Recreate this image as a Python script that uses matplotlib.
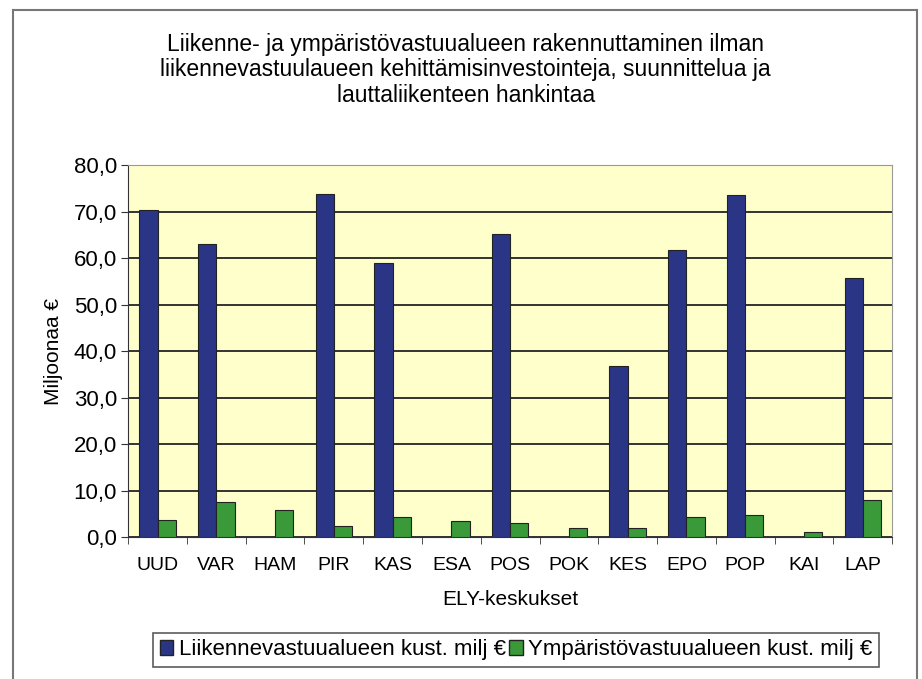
import matplotlib
matplotlib.use("Agg")
import matplotlib.pyplot as plt
import numpy as np
from matplotlib.lines import Line2D
from matplotlib.ticker import FuncFormatter

plt.rcParams['font.family'] = ['Liberation Sans', 'DejaVu Sans']

# data (million €)
regions = ['UUD', 'VAR', 'HAM', 'PIR', 'KAS', 'ESA', 'POS', 'POK', 'KES', 'EPO', 'POP', 'KAI', 'LAP']
liikenne = [70.3, 63.0, 0.0, 73.8, 59.0, 0.0, 65.2, 0.0, 36.7, 61.8, 73.6, 0.0, 55.7]
ymparisto = [3.6, 7.6, 5.8, 2.3, 4.4, 3.4, 3.1, 1.9, 1.9, 4.4, 4.7, 1.2, 7.9]
series_names = ['Liikennevastuualueen kust. milj €', 'Ympäristövastuualueen kust. milj €']
title = ('Liikenne- ja ympäristövastuualueen rakennuttaminen ilman\n'
         'liikennevastuulaueen kehittämisinvestointeja, suunnittelua ja\n'
         'lauttaliikenteen hankintaa')

blue = '#2b3585'
green = '#3a9a3a'

fig = plt.figure(figsize=(9.22, 6.79), dpi=100)
ax = fig.add_axes([0.139, 0.209, 0.8286, 0.548])

x = np.arange(len(regions))
w = 0.31
ax.bar(x - w/2, liikenne, w, color=blue, edgecolor='#222222', linewidth=0.8, zorder=3)
ax.bar(x + w/2, ymparisto, w, color=green, edgecolor='#222222', linewidth=0.8, zorder=3)

ax.set_facecolor('#ffffcc')
ax.set_xlim(-0.5, len(regions) - 0.5)
ax.set_ylim(0, 80)
ax.set_yticks(np.arange(0, 81, 10))
ax.yaxis.set_major_formatter(FuncFormatter(lambda v, p: f'{v:.1f}'.replace('.', ',')))
ax.grid(axis='y', color='#333333', linewidth=1.4, zorder=1)

ax.set_xticks(x)
ax.set_xticklabels(regions, fontsize=14)
ax.set_xticks(np.arange(-0.5, len(regions)), minor=True)
ax.tick_params(axis='x', which='major', length=0, pad=14)
ax.tick_params(axis='x', which='minor', length=5, color='#333333')
ax.tick_params(axis='y', labelsize=16, length=5, color='#333333', pad=3)

for side in ['top', 'right']:
    ax.spines[side].set_color('#999999')
for side in ['left', 'bottom']:
    ax.spines[side].set_color('#333333')

ax.set_xlabel('ELY-keskukset', fontsize=15, labelpad=12)
ax.set_ylabel('Miljoonaa €', fontsize=15, labelpad=8)

fig.text(0.505, 0.897, title, ha='center', va='center', fontsize=16.5, linespacing=1.12)

handles = [plt.Rectangle((0, 0), 1, 1, facecolor=blue, edgecolor='#222222'),
           plt.Rectangle((0, 0), 1, 1, facecolor=green, edgecolor='#222222')]
leg = fig.legend(handles, series_names, loc='center', bbox_to_anchor=(0.56, 0.043), ncol=2,
                 fontsize=16, frameon=True, fancybox=False, edgecolor='#333333',
                 handlelength=0.6, handleheight=0.6, handletextpad=0.25, columnspacing=0.15,
                 borderpad=0.3)
leg.get_frame().set_linewidth(1.2)

# outer chart frame
fig.add_artist(Line2D([0.014, 0.014], [0.0, 0.986], color='#777777', lw=1.5, transform=fig.transFigure))
fig.add_artist(Line2D([0.995, 0.995], [0.0, 0.986], color='#777777', lw=1.5, transform=fig.transFigure))
fig.add_artist(Line2D([0.014, 0.995], [0.986, 0.986], color='#777777', lw=1.5, transform=fig.transFigure))

fig.savefig('out.png', dpi=100)
